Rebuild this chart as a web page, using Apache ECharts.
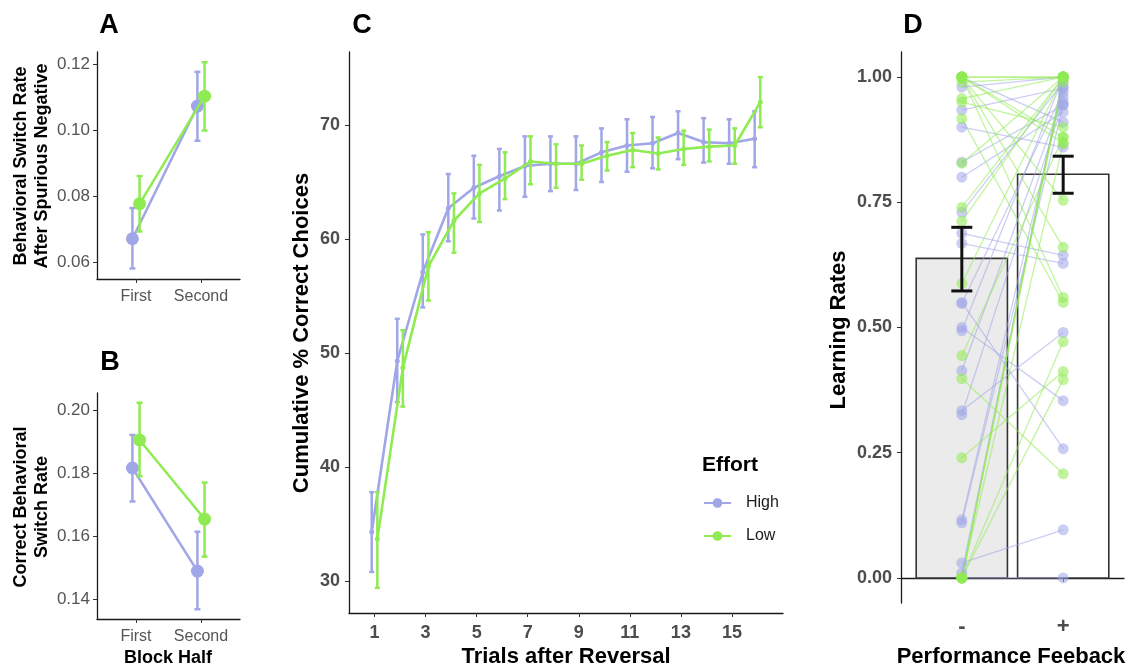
<!DOCTYPE html>
<html>
<head>
<meta charset="utf-8">
<script src="https://cdn.jsdelivr.net/npm/echarts@6/dist/echarts.min.js"></script>
<style>
  html, body { margin: 0; padding: 0; background: #ffffff; }
  #chart { width: 1135px; height: 670px; }
</style>
</head>
<body>
<div id="chart"></div>
<script>
// ---- Panel A: switch rate after spurious negative feedback ----
const halfLabels = ['First', 'Second'];
const aHigh   = [0.0670, 0.1072];
const aHighLo = [0.0580, 0.0967];
const aHighHi = [0.0763, 0.1176];
const aLow    = [0.0776, 0.1102];
const aLowLo  = [0.0692, 0.0998];
const aLowHi  = [0.0860, 0.1205];
const aTicks  = [0.06, 0.08, 0.10, 0.12];

// ---- Panel B: correct switch rate ----
const bHigh   = [0.1816, 0.1489];
const bHighLo = [0.1710, 0.1368];
const bHighHi = [0.1921, 0.1614];
const bLow    = [0.1905, 0.1654];
const bLowLo  = [0.1790, 0.1535];
const bLowHi  = [0.2023, 0.1770];
const bTicks  = [0.14, 0.16, 0.18, 0.20];

// ---- Panel C: cumulative % correct after reversal ----
const trials  = [1, 2, 3, 4, 5, 6, 7, 8, 9, 10, 11, 12, 13, 14, 15, 16];
const cHigh   = [34.3, 49.3, 57.1, 62.7, 64.5, 65.5, 66.4, 66.6, 66.6, 67.6, 68.2, 68.4, 69.3, 68.5, 68.4, 68.8];
const cHighLo = [30.8, 45.7, 54.0, 59.8, 61.8, 62.5, 63.7, 64.2, 64.3, 65.0, 65.9, 66.2, 67.0, 66.7, 66.6, 66.3];
const cHighHi = [37.8, 53.0, 60.4, 65.7, 67.3, 67.9, 69.0, 69.0, 69.0, 69.7, 70.5, 70.7, 71.2, 70.6, 70.5, 71.2];
const cLow    = [33.7, 48.7, 57.6, 61.6, 64.0, 65.3, 66.8, 66.6, 66.6, 67.3, 67.8, 67.5, 67.9, 68.1, 68.2, 72.0];
const cLowLo  = [29.4, 45.3, 54.6, 58.8, 61.5, 63.5, 64.8, 64.5, 65.2, 66.0, 66.3, 66.1, 66.5, 66.8, 66.6, 69.8];
const cLowHi  = [37.8, 52.0, 60.6, 64.0, 66.5, 67.6, 69.0, 68.3, 68.2, 68.5, 69.3, 68.9, 69.5, 69.6, 69.7, 74.2];
const cXTicks = [1, 3, 5, 7, 9, 11, 13, 15];
const cYTicks = [30, 40, 50, 60, 70];

// ---- Panel D: learning rates by feedback sign ----
const feedbackLabels = ['-', '+'];
const barMeans = [0.638, 0.806];
const barLo    = [0.573, 0.768];
const barHi    = [0.700, 0.842];
const dTicks   = [0.00, 0.25, 0.50, 0.75, 1.00];
// per-participant learning rates (negative feedback, positive feedback)
const highMinus = [1.00, 0.98, 0.934, 0.90, 0.83, 0.80, 0.73, 0.688, 0.668, 0.55, 0.548, 0.50, 0.494, 0.414, 0.334, 0.326, 0.116, 0.11, 0.03, 0.01, 0.00];
const highPlus  = [0.91, 1.00, 0.978, 0.86, 0.944, 0.93, 0.99, 0.644, 0.628, 0.258, 0.97, 0.354, 1.00, 0.96, 0.49, 0.95, 0.98, 0.944, 0.096, 1.00, 0.00];
const lowMinus  = [1.00, 1.00, 1.00, 1.00, 1.00, 1.00, 1.00, 0.99, 0.957, 0.95, 0.917, 0.828, 0.74, 0.712, 0.588, 0.444, 0.398, 0.24, 0.00, 0.00, 0.00, 0.00, 0.00, 0.00];
const lowPlus   = [1.00, 1.00, 0.88, 0.66, 0.56, 0.754, 0.868, 1.00, 1.00, 0.90, 0.55, 1.00, 1.00, 1.00, 1.00, 0.88, 0.208, 0.412, 1.00, 0.472, 0.396, 1.00, 0.868, 0.99];

const HIGH_COLOR = '#A0A6E8';
const LOW_COLOR  = '#8FEB52';
const FONT = '"Liberation Sans", Arial, Helvetica, sans-serif';

const chart = echarts.init(document.getElementById('chart'), null, { renderer: 'canvas', width: 1135, height: 670 });

function errorBarSeries(name, xi, data, color, capPx, width, z) {
  return {
    type: 'custom', name: name, xAxisIndex: xi, yAxisIndex: xi, z: z, silent: true,
    data: data, encode: { x: 0, y: [1, 2] },
    renderItem: function (params, api) {
      const x = api.value(0);
      const a = api.coord([x, api.value(1)]);
      const b = api.coord([x, api.value(2)]);
      const h = capPx / 2;
      const st = { stroke: color, lineWidth: width };
      return { type: 'group', children: [
        { type: 'line', shape: { x1: a[0], y1: a[1], x2: b[0], y2: b[1] }, style: st },
        { type: 'line', shape: { x1: a[0] - h, y1: a[1], x2: a[0] + h, y2: a[1] }, style: st },
        { type: 'line', shape: { x1: b[0] - h, y1: b[1], x2: b[0] + h, y2: b[1] }, style: st }
      ] };
    }
  };
}

function lineSeries(name, xi, xs, ys, off, color, symSize, width, z) {
  return {
    type: 'line', name: name, xAxisIndex: xi, yAxisIndex: xi, z: z,
    data: ys.map((v, i) => [xs[i] + off, v]),
    symbol: 'circle', symbolSize: symSize, showSymbol: true,
    lineStyle: { color: color, width: width },
    itemStyle: { color: color },
    emphasis: { disabled: true }, animation: false
  };
}

function errData(xs, lo, hi, off) { return xs.map((x, i) => [x + off, lo[i], hi[i]]); }

const halfX = [1, 2];
const dodgeAB = 0.055;
const dodgeC = 0.11;

const axisLineStyle = { show: true, lineStyle: { color: '#1a1a1a', width: 1.3 } };

function catX(grid, labels, fontSize, bold, color, margin) {
  return {
    type: 'value', gridIndex: grid, min: 0.4, max: 2.6,
    axisLine: axisLineStyle,
    axisTick: { show: true, length: 4, lineStyle: { color: '#333' }, customValues: [1, 2] },
    axisLabel: { customValues: [1, 2], formatter: v => labels[Math.round(v) - 1],
      fontSize: fontSize, fontWeight: bold ? 'bold' : 'normal', color: color, fontFamily: FONT, margin: margin },
    splitLine: { show: false }
  };
}
function valY(grid, min, max, ticks, digits, fontSize, bold, color, margin) {
  return {
    type: 'value', gridIndex: grid, min: min, max: max,
    axisLine: axisLineStyle,
    axisTick: { show: true, length: 4, lineStyle: { color: '#333' }, customValues: ticks },
    axisLabel: { customValues: ticks, formatter: v => v.toFixed(digits),
      fontSize: fontSize, fontWeight: bold ? 'bold' : 'normal', color: color, fontFamily: FONT, margin: margin },
    splitLine: { show: false }
  };
}

// participant pairs for panel D
const highPairs = highMinus.map((v, i) => [1, v, 2, highPlus[i]]);
const lowPairs  = lowMinus.map((v, i) => [1, v, 2, lowPlus[i]]);
function pairSeries(name, data, color, z) {
  return {
    type: 'custom', name: name, xAxisIndex: 3, yAxisIndex: 3, z: z, silent: true,
    data: data, encode: { x: [0, 2], y: [1, 3] },
    renderItem: function (params, api) {
      const a = api.coord([api.value(0), api.value(1)]);
      const b = api.coord([api.value(2), api.value(3)]);
      return { type: 'line', shape: { x1: a[0], y1: a[1], x2: b[0], y2: b[1] },
        style: { stroke: color, lineWidth: 1.3, opacity: 0.55 } };
    }
  };
}
function pointSeries(name, minus, plus, color, z) {
  const pts = minus.map(v => [1, v]).concat(plus.map(v => [2, v]));
  return {
    type: 'scatter', name: name, xAxisIndex: 3, yAxisIndex: 3, z: z, silent: true,
    data: pts, symbol: 'circle', symbolSize: 11,
    itemStyle: { color: color, opacity: 0.55 }, animation: false
  };
}

const barData = feedbackLabels.map((l, i) => [i + 1, barMeans[i]]);
const barFills = ['#ebebeb', '#ffffff'];

const option = {
  backgroundColor: '#ffffff',
  animation: false,
  textStyle: { fontFamily: FONT },
  grid: [
    { left: 97,  top: 52,  width: 143, height: 227, outerBoundsMode: 'none' },
    { left: 97,  top: 393, width: 143, height: 226, outerBoundsMode: 'none' },
    { left: 349, top: 52,  width: 434, height: 561, outerBoundsMode: 'none' },
    { left: 901, top: 52,  width: 223, height: 551, outerBoundsMode: 'none' }
  ],
  xAxis: [
    catX(0, halfLabels, 16, false, '#555', 10),
    catX(1, halfLabels, 16, false, '#555', 10),
    {
      type: 'value', gridIndex: 2, min: 0, max: 17,
      axisLine: axisLineStyle,
      axisTick: { show: true, length: 4, lineStyle: { color: '#333' }, customValues: cXTicks },
      axisLabel: { customValues: cXTicks, fontSize: 18, fontWeight: 'bold', color: '#4d4d4d', fontFamily: FONT, margin: 11 },
      splitLine: { show: false }
    },
    catX(3, feedbackLabels, 22, true, '#4d4d4d', 13)
  ],
  yAxis: [
    valY(0, 0.0548, 0.1236, aTicks, 2, 17, false, '#555', 7),
    valY(1, 0.1337, 0.2054, bTicks, 2, 17, false, '#555', 7),
    valY(2, 27.2, 76.4, cYTicks, 0, 18, true, '#4d4d4d', 9),
    valY(3, -0.05, 1.05, dTicks, 2, 18, true, '#4d4d4d', 9)
  ],
  legend: {
    data: ['High', 'Low'],
    orient: 'vertical', left: 698, top: 490,
    itemWidth: 27, itemHeight: 12, itemGap: 17,
    textStyle: { fontSize: 16, color: '#1a1a1a', fontFamily: FONT, padding: [0, 0, 0, 10] },
    selectedMode: false
  },
  series: [
    // panel C
    errorBarSeries('High err C', 2, errData(trials, cHighLo, cHighHi, -dodgeC), HIGH_COLOR, 5, 2.5, 2),
    lineSeries('High', 2, trials, cHigh, -dodgeC, HIGH_COLOR, 5, 2.6, 3),
    errorBarSeries('Low err C', 2, errData(trials, cLowLo, cLowHi, dodgeC), LOW_COLOR, 5, 2.5, 4),
    lineSeries('Low', 2, trials, cLow, dodgeC, LOW_COLOR, 5, 2.6, 5),
    // panel A
    errorBarSeries('High err A', 0, errData(halfX, aHighLo, aHighHi, -dodgeAB), HIGH_COLOR, 6, 2.5, 2),
    lineSeries('High A', 0, halfX, aHigh, -dodgeAB, HIGH_COLOR, 13, 2.5, 3),
    errorBarSeries('Low err A', 0, errData(halfX, aLowLo, aLowHi, dodgeAB), LOW_COLOR, 6, 2.5, 4),
    lineSeries('Low A', 0, halfX, aLow, dodgeAB, LOW_COLOR, 13, 2.5, 5),
    // panel B
    errorBarSeries('High err B', 1, errData(halfX, bHighLo, bHighHi, -dodgeAB), HIGH_COLOR, 6, 2.5, 2),
    lineSeries('High B', 1, halfX, bHigh, -dodgeAB, HIGH_COLOR, 13, 2.5, 3),
    errorBarSeries('Low err B', 1, errData(halfX, bLowLo, bLowHi, dodgeAB), LOW_COLOR, 6, 2.5, 4),
    lineSeries('Low B', 1, halfX, bLow, dodgeAB, LOW_COLOR, 13, 2.5, 5),
    // panel D: bars
    {
      type: 'custom', name: 'mean bars', xAxisIndex: 3, yAxisIndex: 3, z: 1, silent: true,
      data: barData, encode: { x: 0, y: 1 },
      renderItem: function (params, api) {
        const x = api.value(0);
        const p0 = api.coord([x - 0.45, 0]);
        const p1 = api.coord([x + 0.45, api.value(1)]);
        return { type: 'rect',
          shape: { x: p0[0], y: p1[1], width: p1[0] - p0[0], height: p0[1] - p1[1] },
          style: { fill: barFills[params.dataIndex], stroke: '#333', lineWidth: 1.6 } };
      }
    },
    pairSeries('High pairs', highPairs, HIGH_COLOR, 2),
    pairSeries('Low pairs', lowPairs, LOW_COLOR, 3),
    pointSeries('High points', highMinus, highPlus, HIGH_COLOR, 4),
    pointSeries('Low points', lowMinus, lowPlus, LOW_COLOR, 5),
    errorBarSeries('mean err D', 3, errData([1, 2], barLo, barHi, 0), '#111', 21, 3, 6)
  ],
  graphic: [
    // panel letters
    { type: 'text', x: 109, y: 26, style: { text: 'A', font: 'bold 27px ' + FONT, fill: '#000', textAlign: 'center', textVerticalAlign: 'middle' } },
    { type: 'text', x: 110, y: 363, style: { text: 'B', font: 'bold 27px ' + FONT, fill: '#000', textAlign: 'center', textVerticalAlign: 'middle' } },
    { type: 'text', x: 362, y: 26, style: { text: 'C', font: 'bold 27px ' + FONT, fill: '#000', textAlign: 'center', textVerticalAlign: 'middle' } },
    { type: 'text', x: 913, y: 26, style: { text: 'D', font: 'bold 27px ' + FONT, fill: '#000', textAlign: 'center', textVerticalAlign: 'middle' } },
    // y-axis titles
    { type: 'text', x: 32, y: 166, rotation: Math.PI / 2,
      style: { text: 'Behavioral Switch Rate\nAfter Spurious Negative', font: 'bold 18px ' + FONT, lineHeight: 21, fill: '#000', textAlign: 'center', textVerticalAlign: 'middle' } },
    { type: 'text', x: 32, y: 507, rotation: Math.PI / 2,
      style: { text: 'Correct Behavioral\nSwitch Rate', font: 'bold 18px ' + FONT, lineHeight: 21, fill: '#000', textAlign: 'center', textVerticalAlign: 'middle' } },
    { type: 'text', x: 302, y: 333, rotation: Math.PI / 2,
      style: { text: 'Cumulative % Correct Choices', font: 'bold 22px ' + FONT, fill: '#000', textAlign: 'center', textVerticalAlign: 'middle' } },
    { type: 'text', x: 839, y: 330, rotation: Math.PI / 2,
      style: { text: 'Learning Rates', font: 'bold 22px ' + FONT, fill: '#000', textAlign: 'center', textVerticalAlign: 'middle' } },
    // x-axis titles
    { type: 'text', x: 168, y: 658, style: { text: 'Block Half', font: 'bold 18px ' + FONT, fill: '#000', textAlign: 'center', textVerticalAlign: 'middle' } },
    { type: 'text', x: 566, y: 657, style: { text: 'Trials after Reversal', font: 'bold 22px ' + FONT, fill: '#000', textAlign: 'center', textVerticalAlign: 'middle' } },
    { type: 'text', x: 1011, y: 657, style: { text: 'Performance Feeback', font: 'bold 22px ' + FONT, fill: '#000', textAlign: 'center', textVerticalAlign: 'middle' } },
    // legend title
    { type: 'text', x: 702, y: 465, style: { text: 'Effort', font: 'bold 21px ' + FONT, fill: '#000', textAlign: 'left', textVerticalAlign: 'middle' } }
  ]
};

chart.setOption(option);
</script>
</body>
</html>
